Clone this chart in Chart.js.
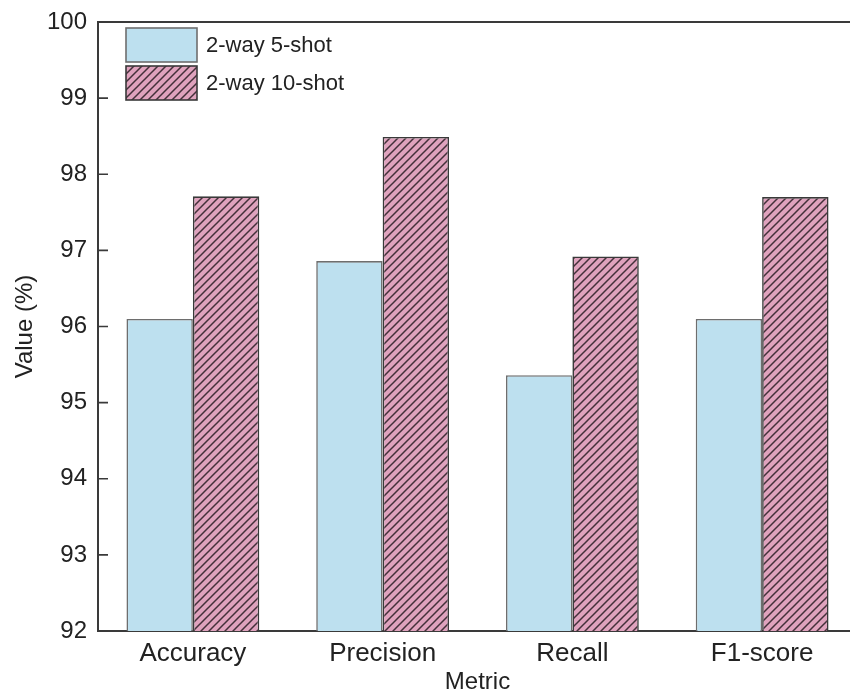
<!DOCTYPE html>
<html>
<head>
<meta charset="utf-8">
<script src="https://cdn.jsdelivr.net/npm/chart.js@4/dist/chart.umd.min.js"></script>
<style>
  html, body { margin: 0; padding: 0; background: #fff; overflow: hidden; }
  #wrap { width: 857px; height: 694px; position: relative; }
</style>
</head>
<body>
<div id="wrap"><canvas id="c"></canvas></div>
<script>
const categories = ["Accuracy", "Precision", "Recall", "F1-score"];
const seriesNames = ["2-way 5-shot", "2-way 10-shot"];
const fiveShot = [96.10, 96.86, 95.36, 96.10];
const tenShot = [97.71, 98.49, 96.92, 97.70];
const yTicks = [92, 93, 94, 95, 96, 97, 98, 99, 100];

const FONT = "'Liberation Sans', Arial, sans-serif";
const BLUE = "#bde0ef";
const PINK = "#dfa2bd";

function makeHatch() {
  const s = 8;
  const c = document.createElement("canvas");
  c.width = s; c.height = s;
  const g = c.getContext("2d");
  g.fillStyle = PINK;
  g.fillRect(0, 0, s, s);
  g.strokeStyle = "#44303a";
  g.lineWidth = 1.5;
  g.beginPath();
  g.moveTo(-1, s + 1); g.lineTo(s + 1, -1);
  g.moveTo(-1, 1); g.lineTo(1, -1);
  g.moveTo(s - 1, s + 1); g.lineTo(s + 1, s - 1);
  g.stroke();
  return document.getElementById("c").getContext("2d").createPattern(c, "repeat");
}
const hatch = makeHatch();

const framePlugin = {
  id: "frame",
  afterDatasetsDraw(chart) {
    const { ctx, chartArea: a, scales } = chart;
    ctx.save();
    ctx.strokeStyle = "#3a3a3a";
    ctx.lineWidth = 2;
    ctx.beginPath();
    ctx.moveTo(a.left, a.top);
    ctx.lineTo(a.right, a.top);
    ctx.stroke();
    // inward ticks on y axis
    ctx.lineWidth = 1.6;
    ctx.beginPath();
    scales.y.ticks.forEach(t => {
      const y = scales.y.getPixelForValue(t.value);
      ctx.moveTo(a.left, y);
      ctx.lineTo(a.left + 10, y);
    });
    ctx.stroke();
    // legend inside plot
    const ds = chart.data.datasets;
    const bx = a.left + 28, bw = 71, bh = 34;
    const rows = [a.top + 6, a.top + 44];
    ds.forEach((d, i) => {
      const by = rows[i];
      ctx.fillStyle = d.backgroundColor;
      ctx.fillRect(bx, by, bw, bh);
      ctx.strokeStyle = d.borderColor;
      ctx.lineWidth = 1.6;
      ctx.strokeRect(bx, by, bw, bh);
      ctx.fillStyle = "#222";
      ctx.font = "22px " + FONT;
      ctx.textAlign = "left";
      ctx.textBaseline = "middle";
      ctx.fillText(d.label, bx + bw + 9, by + bh / 2 + 1);
    });
    ctx.restore();
  }
};

new Chart(document.getElementById("c"), {
  type: "bar",
  data: {
    labels: categories,
    datasets: [
      { label: seriesNames[0], data: fiveShot, backgroundColor: BLUE, borderColor: "#6e6e6e", borderWidth: 1.6 },
      { label: seriesNames[1], data: tenShot, backgroundColor: hatch, borderColor: "#3a3a3a", borderWidth: 1.6 }
    ]
  },
  options: {
    responsive: true,
    maintainAspectRatio: false,
    animation: false,
    layout: { padding: { top: 22, right: 0, bottom: 0, left: 0 } },
    datasets: { bar: { categoryPercentage: 0.7, barPercentage: 1.0, borderSkipped: "bottom" } },
    plugins: { legend: { display: false }, tooltip: { enabled: false } },
    scales: {
      x: {
        grid: { display: true, drawOnChartArea: false, drawTicks: false },
        border: { display: true, color: "#3a3a3a", width: 2 },
        ticks: { color: "#222", font: { family: FONT, size: 26 }, padding: 7 },
        title: { display: true, text: "Metric", color: "#222", font: { family: FONT, size: 24, lineHeight: 1.0 }, padding: { top: 0, bottom: 0 } },
        afterFit(scale) { scale.height = 63; scale.paddingLeft = 0; scale.paddingRight = 0; }
      },
      y: {
        min: yTicks[0],
        max: yTicks[yTicks.length - 1],
        afterBuildTicks(scale) { scale.ticks = yTicks.map(v => ({ value: v })); },
        grid: { display: true, drawOnChartArea: false, drawTicks: false },
        border: { display: true, color: "#3a3a3a", width: 2 },
        ticks: { color: "#222", font: { family: FONT, size: 24 }, padding: 11 },
        title: { display: true, text: "Value (%)", color: "#222", font: { family: FONT, size: 24, lineHeight: 1.0 }, padding: { top: 13, bottom: 0 } },
        afterFit(scale) { scale.width = 98; scale.paddingTop = 0; scale.paddingBottom = 0; }
      }
    }
  },
  plugins: [framePlugin]
});
</script>
</body>
</html>
